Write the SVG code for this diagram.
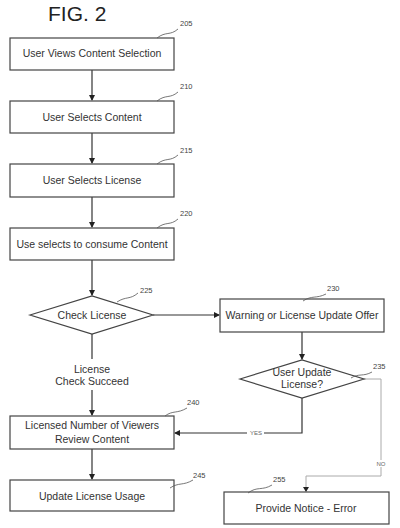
<svg xmlns="http://www.w3.org/2000/svg" width="400" height="528" viewBox="0 0 400 528">
<style>
.box{fill:#fff;stroke:#444;stroke-width:1.2}
.t{font-family:"Liberation Sans",Arial,sans-serif;font-size:10.5px;fill:#333;text-anchor:middle}
.n{font-family:"Liberation Sans",Arial,sans-serif;font-size:7.5px;fill:#444}
.s{font-family:"Liberation Sans",Arial,sans-serif;font-size:6px;fill:#666;text-anchor:middle}
.c{fill:none;stroke:#333;stroke-width:1.2}
.g{fill:none;stroke:#aaa;stroke-width:1}
.ld{fill:none;stroke:#555;stroke-width:0.8}
</style>
<defs>
<marker id="a" markerWidth="6" markerHeight="6" refX="5" refY="3" orient="auto" markerUnits="userSpaceOnUse">
<path d="M0,0 L6,3 L0,6 z" fill="#222"/>
</marker>
</defs>
<rect width="400" height="528" fill="#fff"/>
<text x="48" y="21" style="font-family:'Liberation Sans',Arial,sans-serif;font-size:21px;fill:#222">FIG. 2</text>
<g id="connectors">
<path class="c" d="M92,70 V100" marker-end="url(#a)"/>
<path class="c" d="M92,133 V163" marker-end="url(#a)"/>
<path class="c" d="M92,197 V227" marker-end="url(#a)"/>
<path class="c" d="M92,260 V295" marker-end="url(#a)"/>
<path class="c" d="M153,315 H219" marker-end="url(#a)"/>
<path class="c" d="M302,332 V359" marker-end="url(#a)"/>
<path class="c" d="M92,334 V359"/>
<path class="c" d="M92,390 V415" marker-end="url(#a)"/>
<text class="t" x="92" y="373">License</text>
<text class="t" x="92" y="385">Check Succeed</text>
<path class="c" d="M302,398 V433 H175" marker-end="url(#a)"/>
<rect x="247" y="430" width="17" height="6" fill="#fff"/>
<text class="s" x="256" y="435">YES</text>
<path class="c" d="M92,449 V479" marker-end="url(#a)"/>
<path class="g" d="M364,379 H381 V476 H306 V491"/>
<path d="M303,487 L306,492 L309,487 z" fill="#222"/>
<rect x="374" y="460" width="14" height="7" fill="#fff"/>
<text class="s" x="381" y="466">NO</text>
</g>
<g id="n205">
<rect class="box" x="10" y="38" width="164" height="32"/>
<text class="t" x="92" y="57">User Views Content Selection</text>
<path class="ld" d="M157,38 C166,31 170,36 178,29"/>
<text class="n" x="180" y="26">205</text>
</g>
<g id="n210">
<rect class="box" x="10" y="101" width="164" height="32"/>
<text class="t" x="92" y="121">User Selects Content</text>
<path class="ld" d="M157,101 C166,94 170,99 178,92"/>
<text class="n" x="180" y="89">210</text>
</g>
<g id="n215">
<rect class="box" x="10" y="164" width="164" height="33"/>
<text class="t" x="92" y="184">User Selects License</text>
<path class="ld" d="M157,164 C166,157 170,162 178,155"/>
<text class="n" x="180" y="153">215</text>
</g>
<g id="n220">
<rect class="box" x="10" y="228" width="164" height="32"/>
<text class="t" x="92" y="248">Use selects to consume Content</text>
<path class="ld" d="M157,228 C166,221 170,226 178,219"/>
<text class="n" x="180" y="216">220</text>
</g>
<g id="n225">
<path class="box" d="M30,315 L92,296 L153,315 L92,334 z"/>
<text class="t" x="92" y="319">Check License</text>
<path class="ld" d="M117,302 C126,296 130,300 138,293"/>
<text class="n" x="140" y="293">225</text>
</g>
<g id="n230">
<rect class="box" x="220" y="299" width="164" height="33"/>
<text class="t" x="302" y="319">Warning or License Update Offer</text>
<path class="ld" d="M303,301 C312,295 316,299 326,294"/>
<text class="n" x="327" y="291">230</text>
</g>
<g id="n235">
<path class="box" d="M240,379 L302,360 L364,379 L302,398 z"/>
<text class="t" x="302" y="376">User Update</text>
<text class="t" x="302" y="388">License?</text>
<path class="ld" d="M351,378 C359,373 363,377 372,372"/>
<text class="n" x="373" y="369">235</text>
</g>
<g id="n240">
<rect class="box" x="10" y="416" width="164" height="33"/>
<text class="t" x="92" y="429">Licensed Number of Viewers</text>
<text class="t" x="92" y="443">Review Content</text>
<path class="ld" d="M165,416 C173,410 177,414 187,408"/>
<text class="n" x="187" y="405">240</text>
</g>
<g id="n245">
<rect class="box" x="10" y="480" width="164" height="31"/>
<text class="t" x="92" y="500">Update License Usage</text>
<path class="ld" d="M170,488 C179,482 183,486 193,480"/>
<text class="n" x="193" y="478">245</text>
</g>
<g id="n255">
<rect class="box" x="224" y="492" width="165" height="32"/>
<text class="t" x="306" y="512">Provide Notice - Error</text>
<path class="ld" d="M248,493 C257,486 262,491 272,485"/>
<text class="n" x="273" y="482">255</text>
</g>
</svg>
